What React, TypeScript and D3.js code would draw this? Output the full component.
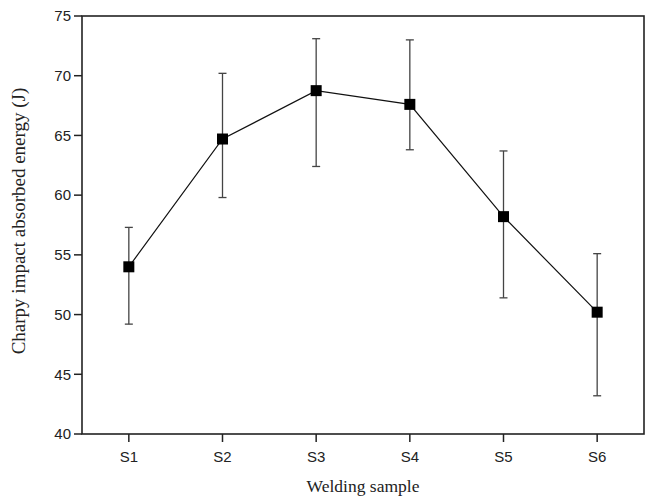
import React from 'react';
import * as d3 from 'd3';

const samples = ['S1', 'S2', 'S3', 'S4', 'S5', 'S6'];
const energy = [54.0, 64.7, 68.75, 67.6, 58.2, 50.2];
const errTop = [57.3, 70.2, 73.1, 73.0, 63.7, 55.1];
const errBottom = [49.2, 59.8, 62.4, 63.8, 51.4, 43.2];
const yTicks = [40, 45, 50, 55, 60, 65, 70, 75];

const App = () => {
    const width = 646;
    const height = 498;
    const left = 82;
    const right = 644;
    const top = 16;
    const bottom = 434;

    // point scale with half-step padding at both ends
    const x = d3.scalePoint<string>()
        .domain(samples)
        .range([left, right])
        .padding(0.5);

    const y = d3.scaleLinear()
        .domain([40, 75])
        .range([bottom, top]);

    const line = d3.line<number>()
        .x((_, i) => x(samples[i]) as number)
        .y(d => y(d));

    const sans = 'Liberation Sans, Arial, sans-serif';
    const serif = 'Liberation Serif, Times New Roman, serif';
    const cap = 4;
    const m = 5.5;

    return (
        <svg width={width} height={height} style={{ position: 'absolute', left: 0, top: 0, background: '#fff' }}>
            {/* y ticks */}
            {yTicks.map(t => (
                <g key={t}>
                    <line x1={left - 8} x2={left} y1={y(t)} y2={y(t)} stroke="#222" strokeWidth={1.5} />
                    <text x={left - 11} y={y(t)} dy="0.35em" textAnchor="end" fontFamily={sans} fontSize={15} fill="#222">{t}</text>
                </g>
            ))}
            {/* x ticks */}
            {samples.map(s => (
                <g key={s}>
                    <line x1={x(s)} x2={x(s)} y1={bottom} y2={bottom + 8} stroke="#222" strokeWidth={1.5} />
                    <text x={x(s)} y={462} textAnchor="middle" fontFamily={sans} fontSize={15} fill="#222">{s}</text>
                </g>
            ))}

            {/* error bars */}
            {samples.map((s, i) => (
                <g key={'e' + s} stroke="#444" strokeWidth={1.3}>
                    <line x1={x(s)} x2={x(s)} y1={y(errTop[i])} y2={y(errBottom[i])} />
                    <line x1={(x(s) as number) - cap} x2={(x(s) as number) + cap} y1={y(errTop[i])} y2={y(errTop[i])} />
                    <line x1={(x(s) as number) - cap} x2={(x(s) as number) + cap} y1={y(errBottom[i])} y2={y(errBottom[i])} />
                </g>
            ))}

            <path d={line(energy) || ''} fill="none" stroke="#111" strokeWidth={1.2} />

            {samples.map((s, i) => (
                <rect key={'m' + s} x={(x(s) as number) - m} y={y(energy[i]) - m} width={m * 2} height={m * 2} fill="#000" />
            ))}

            {/* frame */}
            <rect x={left} y={top} width={right - left} height={bottom - top} fill="none" stroke="#222" strokeWidth={1.6} />

            <text transform={`translate(25,${(top + bottom) / 2 - 4}) rotate(-90)`} textAnchor="middle" fontFamily={serif} fontSize={19} fill="#222">
                Charpy impact absorbed energy (J)
            </text>
            <text x={(left + right) / 2} y={492} textAnchor="middle" fontFamily={serif} fontSize={17.5} fill="#222">
                Welding sample
            </text>
        </svg>
    );
};

export default App;
